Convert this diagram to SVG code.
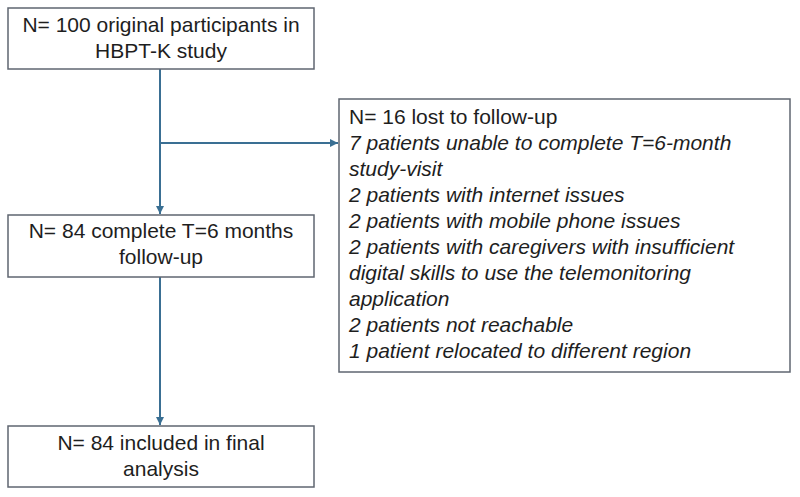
<svg xmlns="http://www.w3.org/2000/svg" width="800" height="497" viewBox="0 0 800 497">
<style>
.box{fill:#ffffff;stroke:#5f6670;stroke-width:1.5}
.t{font-family:"Liberation Sans",Arial,sans-serif;font-size:21px;fill:#1e1e1e}
.c{text-anchor:middle}
.i{font-style:italic}
.ln{fill:none;stroke:#3a6f93;stroke-width:2}
</style>
<defs>
<marker id="ah" viewBox="0 0 10 10" refX="10" refY="5" markerWidth="4" markerHeight="4" orient="auto" markerUnits="strokeWidth">
<path d="M0,0 L10,5 L0,10 z" fill="#3a6f93"/>
</marker>
</defs>
<rect width="800" height="497" fill="#ffffff"/>
<g id="connectors">
<line class="ln" x1="160" y1="69" x2="160" y2="214" marker-end="url(#ah)"/>
<line class="ln" x1="160" y1="143" x2="338" y2="143" marker-end="url(#ah)"/>
<line class="ln" x1="160" y1="277" x2="160" y2="425" marker-end="url(#ah)"/>
</g>
<g id="n1">
<rect class="box" x="8" y="8" width="306" height="61"/>
<text class="t c" x="161" y="32">N= 100 original participants in</text>
<text class="t c" x="161" y="58">HBPT-K study</text>
</g>
<g id="n2">
<rect class="box" x="8" y="215" width="306" height="62"/>
<text class="t c" x="161" y="238">N= 84 complete T=6 months</text>
<text class="t c" x="161" y="264">follow-up</text>
</g>
<g id="n3">
<rect class="box" x="339" y="99" width="451" height="273"/>
<text class="t" x="349" y="124">N= 16 lost to follow-up</text>
<text class="t i" x="349" y="150">7 patients unable to complete T=6-month</text>
<text class="t i" x="349" y="176">study-visit</text>
<text class="t i" x="349" y="202">2 patients with internet issues</text>
<text class="t i" x="349" y="228">2 patients with mobile phone issues</text>
<text class="t i" x="349" y="254">2 patients with caregivers with insufficient</text>
<text class="t i" x="349" y="280">digital skills to use the telemonitoring</text>
<text class="t i" x="349" y="306">application</text>
<text class="t i" x="349" y="332">2 patients not reachable</text>
<text class="t i" x="349" y="358">1 patient relocated to different region</text>
</g>
<g id="n4">
<rect class="box" x="8" y="426" width="306" height="61"/>
<text class="t c" x="161" y="450">N= 84 included in final</text>
<text class="t c" x="161" y="476">analysis</text>
</g>
</svg>
